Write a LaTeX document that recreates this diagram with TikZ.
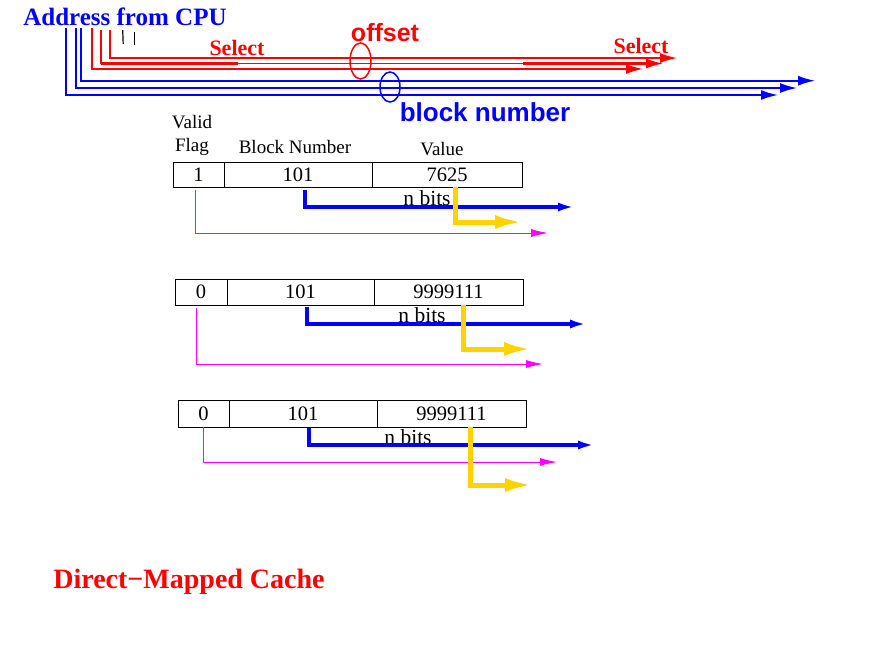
\documentclass[tikz,border=0pt]{standalone}
\usepackage{fontspec}
\setmainfont{Liberation Serif}
\newfontfamily\hvfont{Liberation Sans}
\usetikzlibrary{arrows.meta}
\definecolor{gold}{RGB}{255,210,0}
\definecolor{mag}{RGB}{255,0,255}
\begin{document}
\begin{tikzpicture}[x=1pt,y=-1pt,
  bus/.style={line width=1.6pt},
  thinarrow/.style={-{Latex[length=17pt,width=10pt]}},
  bluebus/.style={bus,blue,thinarrow},
  redbus/.style={bus,red,thinarrow},
  tblue/.style={blue,line width=3.5pt,-{Latex[length=17pt,width=9pt]}},
  tgold/.style={gold,line width=5pt,-{Latex[length=28pt,width=14pt]}},
  tmag/.style={mag,line width=1pt,-{Latex[length=17pt,width=8pt]}},
  cell/.style={draw,line width=1pt,inner sep=0pt,outer sep=0pt,anchor=north west,
    font=\fontsize{20.5}{20.5}\selectfont},
  hdr/.style={font=\fontsize{19}{19}\selectfont,inner sep=0pt},
  nbits/.style={font=\fontsize{21.5}{21.5}\selectfont,inner sep=0pt},
  sel/.style={red,font=\bfseries\fontsize{22}{22}\selectfont,inner sep=0pt},
  sans/.style={font=\hvfont\bfseries\fontsize{25}{25}\selectfont,inner sep=0pt}
]
\useasboundingbox (0,0) rectangle (895,656);

% title
\node[blue,font=\bfseries\fontsize{25}{25}\selectfont,inner sep=0pt] (cpu) at (125,17) {Address from CPU};

% address bit coordinates
\coordinate (a1) at (65.7,28);
\coordinate (a2) at (76,28);
\coordinate (a3) at (81,28);
\coordinate (a4) at (91.7,28);
\coordinate (a5) at (101,30);
\coordinate (a6) at (110,30);
\coordinate (e1) at (778,95);
\coordinate (e2) at (797,88);
\coordinate (e3) at (815,80.7);
\coordinate (e4) at (643,69);
\coordinate (e5) at (663,63.5);
\coordinate (e6) at (677,58);

\draw[bluebus] (a1) |- (e1);
\draw[bluebus] (a2) |- (e2);
\draw[bluebus] (a3) |- (e3);
\draw[redbus] (a4) |- (e4);
\draw[redbus] (a5) |- (e5);
\draw[redbus] (a6) |- (e6);
% thicker pieces
\draw[red,line width=2.8pt] (92,69) -- (227,69) (507,69) -- (630,69);
\draw[red,line width=2.8pt] (101,63.5) -- (238,63.5) (523,63.5) -- (650,63.5);

% small black ticks
\coordinate (t1a) at (122.7,30); \coordinate (t1b) at (123.2,44);
\coordinate (t2a) at (134,32);   \coordinate (t2b) at (134,45);
\draw[line width=1.2pt] (t1a) -- (t1b);
\draw[line width=1pt] (t2a) -- (t2b);

% labels
\node[sel] (sel1) at (237,48) {Select};
\node[sel] (sel2) at (641,46) {Select};
\node[sans,red] (off) at (385,33) {offset};
\node[sans,blue,font=\hvfont\bfseries\fontsize{26}{26}\selectfont] (bn) at (485,112) {block number};
\draw[red,line width=1.5pt] (360.5,61) ellipse [x radius=10.5, y radius=18];
\draw[blue,line width=1.5pt] (390,87) ellipse [x radius=10, y radius=15];

% headers
\node[hdr] (valid) at (192,122) {Valid};
\node[hdr] (flag) at (192,147) {Flag};
\node[hdr] (bnh) at (295,147) {Block Number};
\node[hdr] (valh) at (442,149) {Value};

% row 1
\node[cell,minimum width=51pt,minimum height=25pt] (f1) at (173,162) {1};
\node[cell,minimum width=148pt,minimum height=25pt] (b1) at (224,162) {101};
\node[cell,minimum width=150pt,minimum height=25pt] (v1) at (372,162) {7625};
\node[nbits] (n1) at (427,198) {n bits};
\coordinate (b1s) at (305,190); \coordinate (b1e) at (575,207);
\coordinate (v1s) at (455,187); \coordinate (v1e) at (523,222);
\coordinate (f1s) at (195,190); \coordinate (f1e) at (548,233);
\draw[tblue] (b1s) |- (b1e);
\draw[tgold] (v1s) |- (v1e);
\draw[tmag] (f1s) |- (f1e);

% row 2
\node[cell,minimum width=52pt,minimum height=26pt] (f2) at (175,279) {0};
\node[cell,minimum width=147pt,minimum height=26pt] (b2) at (227,279) {101};
\node[cell,minimum width=149pt,minimum height=26pt] (v2) at (374,279) {9999111};
\node[nbits] (n2) at (422,315) {n bits};
\coordinate (b2s) at (307,307); \coordinate (b2e) at (587,324);
\coordinate (v2s) at (463,305); \coordinate (v2e) at (532,349);
\coordinate (f2s) at (196,308); \coordinate (f2e) at (543,364);
\draw[tblue] (b2s) |- (b2e);
\draw[tgold] (v2s) |- (v2e);
\draw[tmag] (f2s) |- (f2e);

% row 3
\node[cell,minimum width=51pt,minimum height=27pt] (f3) at (178,400) {0};
\node[cell,minimum width=148pt,minimum height=27pt] (b3) at (229,400) {101};
\node[cell,minimum width=149pt,minimum height=27pt] (v3) at (377,400) {9999111};
\node[nbits] (n3) at (408,437) {n bits};
\coordinate (b3s) at (309,428); \coordinate (b3e) at (595,445);
\coordinate (v3s) at (470,427); \coordinate (v3e) at (533,485);
\coordinate (f3s) at (203,427); \coordinate (f3e) at (557,462);
\draw[tmag] (f3s) |- (f3e);
\draw[tblue] (b3s) |- (b3e);
\draw[tgold] (v3s) |- (v3e);

% caption
\node[red,font=\bfseries\fontsize{28}{28}\selectfont,inner sep=0pt] (cap) at (189,582) {Direct−Mapped Cache};
\end{tikzpicture}
\end{document}
